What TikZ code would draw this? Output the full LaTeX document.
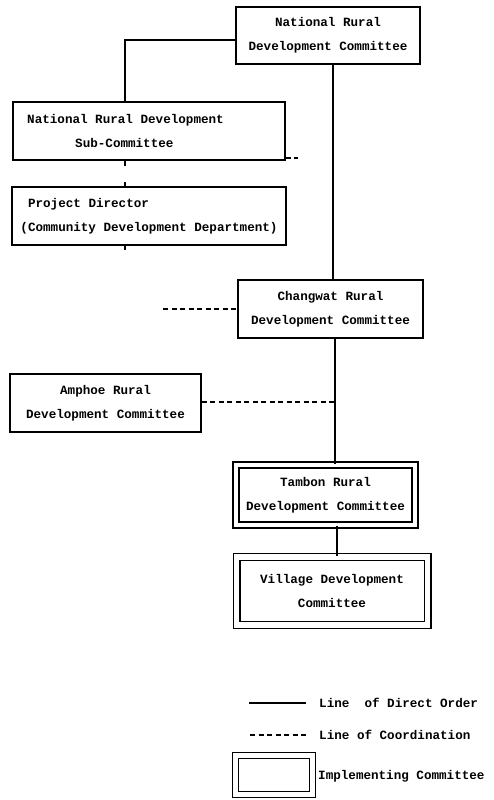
\documentclass[tikz,border=0pt]{standalone}
\usepackage{fontspec}
\setmainfont{Liberation Mono}
\begin{document}
\begin{tikzpicture}[x=1bp,y=-1bp,
  every node/.style={font=\fontsize{12.6bp}{24bp}\selectfont\bfseries},
  box/.style={draw,line width=1.3bp,align=center,inner sep=0pt},
  dbox/.style={draw,double,line width=1.4bp,double distance=4.6bp,align=center,inner sep=0pt},
  order/.style={line width=1.1bp},
  coord/.style={line width=1.1bp,dash pattern=on 5bp off 3.5bp},
  lbl/.style={anchor=west,inner sep=0pt}]
\useasboundingbox (0,0) rectangle (494,800);
\fill[white] (0,0) rectangle (494,800);
% boxes
\node[box,minimum width=184bp,minimum height=57bp] (nrdc) at (328,35.5) {National Rural\\Development Committee};
\node[box,minimum width=272bp,minimum height=58bp,align=left] (sub) at (149,131) {National Rural Development\hspace*{47bp}\\\hspace*{48bp}Sub-Committee};
\node[box,minimum width=274bp,minimum height=58bp,align=left] (pd) at (149,216) {\ Project Director\\(Community Development Department)};
\node[box,minimum width=185bp,minimum height=58bp] (chang) at (330.5,309) {Changwat Rural\\Development Committee};
\node[box,minimum width=191bp,minimum height=58bp] (amph) at (105.5,403) {Amphoe Rural\\Development Committee};
\node[dbox,minimum width=179bp,minimum height=60bp] (tambon) at (325.5,495) {Tambon Rural\\Development Committee};
\node[dbox,minimum width=191bp,minimum height=68bp,double distance=5.2bp] (village) at (332,591) {Village Development\\Committee};
% connectors
\coordinate (j1) at (125,40);
\draw[order] (nrdc.west |- j1) -- (j1) -- (j1 |- sub.north);
\coordinate (v1) at (333,0);
\draw[order] (nrdc.south -| v1) -- (chang.north -| v1);
\coordinate (v2) at (335,0);
\draw[order] (chang.south -| v2) -- (tambon.north -| v2);
\coordinate (v3) at (337,0);
\draw[order] (tambon.south -| v3) -- (village.north -| v3);
\coordinate (d1) at (298,158);
\draw[coord] (sub.east |- d1) -- (d1);
\coordinate (d2) at (163,309);
\draw[coord] (d2) -- (chang.west);
\coordinate (d3) at (335,402);
\draw[coord] (amph.east |- d3) -- (d3);
% small ticks
\coordinate (t1) at (125,166);
\draw[order] (sub.south -| t1) -- (t1);
\coordinate (t2) at (125,182);
\draw[order] (t2) -- (pd.north -| t2);
\coordinate (t3) at (125,250);
\draw[order] (pd.south -| t3) -- (t3);
% legend
\coordinate (l1a) at (249,703); \coordinate (l1b) at (306,703);
\draw[order] (l1a) -- (l1b);
\node[lbl] (l1) at (319,703) {Line\ \ of Direct Order};
\coordinate (l2a) at (250,735); \coordinate (l2b) at (306,735);
\draw[coord] (l2a) -- (l2b);
\node[lbl] (l2) at (319,735) {Line of Coordination};
\node[dbox,minimum width=76.5bp,minimum height=39.5bp] (lbox) at (274,775) {};
\node[lbl] (l3) at (318,776) {Implementing Committee};
\end{tikzpicture}
\end{document}
